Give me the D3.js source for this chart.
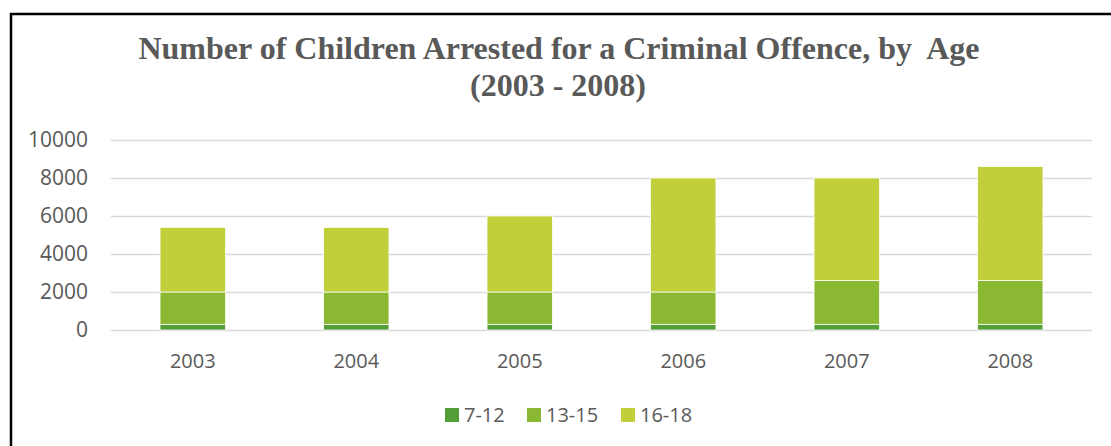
<!DOCTYPE html>
<html>
<head>
<meta charset="utf-8">
<script src="https://cdn.jsdelivr.net/npm/d3@7"></script>
<style>
  body { margin: 0; background: #fff; }
  svg { display: block; }
  .title { font-family: 'Liberation Serif', 'Times New Roman', serif; font-weight: bold; font-size: 32px; fill: #595959; white-space: pre; }
  .axis text, .legend text { font-family: 'Open Sans', sans-serif; fill: #595959; }
</style>
</head>
<body>
<script>
const width = 1111;
const height = 446;

// chart values
const years = ['2003', '2004', '2005', '2006', '2007', '2008'];
const ages = ['7-12', '13-15', '16-18'];
const age7to12 = [300, 300, 300, 300, 300, 300];
const age13to15 = [1700, 1700, 1700, 1700, 2300, 2300];
const age16to18 = [3400, 3400, 4000, 6000, 5400, 6000];
const yTicks = [0, 2000, 4000, 6000, 8000, 10000];
const colors = ['#549E39', '#8AB833', '#C0CF3A'];

const rows = years.map((y, i) => ({year: y, '7-12': age7to12[i], '13-15': age13to15[i], '16-18': age16to18[i]}));

const svg = d3.select('body').append('svg')
  .attr('width', width)
  .attr('height', height);

// frame (only top and left edges are inside the picture)
svg.append('path')
  .attr('d', `M11,${height} V14 H${width}`)
  .attr('fill', 'none')
  .attr('stroke', '#000')
  .attr('stroke-width', 2.5);

svg.append('text').attr('class', 'title')
  .attr('x', 559).attr('y', 59)
  .attr('text-anchor', 'middle')
  .text('Number of Children Arrested for a Criminal Offence, by  Age');
svg.append('text').attr('class', 'title')
  .attr('x', 558).attr('y', 96)
  .attr('text-anchor', 'middle')
  .text('(2003 - 2008)');

const x = d3.scaleBand().domain(years).range([111, 1092]).paddingInner(0.6).paddingOuter(0.3);
const y = d3.scaleLinear().domain([0, 10000]).range([330, 140]);

const yAxis = d3.axisLeft(y).tickValues(yTicks).tickFormat(d3.format('d'))
  .tickSizeInner(-(1092 - 111)).tickSizeOuter(0).tickPadding(23);
const gy = svg.append('g').attr('class', 'axis').attr('transform', 'translate(111,0)').call(yAxis);
gy.select('.domain').remove();
gy.selectAll('line').attr('stroke', '#d9d9d9').attr('stroke-width', 1.5);
gy.selectAll('text').style('font-size', '21px');

const stacked = d3.stack().keys(ages)(rows);

svg.append('g').selectAll('g').data(stacked).enter()
  .append('g')
  .attr('fill', (d, i) => colors[i])
  .selectAll('rect').data(d => d).enter()
  .append('rect')
  .attr('x', d => x(d.data.year))
  .attr('y', d => y(d[1]))
  .attr('width', x.bandwidth())
  .attr('height', d => y(d[0]) - y(d[1]))
  .attr('stroke', '#fff')
  .attr('stroke-width', 0.75);

const xAxis = d3.axisBottom(x).tickSize(0).tickPadding(24);
const gx = svg.append('g').attr('class', 'axis').attr('transform', 'translate(0,330)').call(xAxis);
gx.select('.domain').remove();
gx.selectAll('text').style('font-size', '20px');

// legend
const legendX = [445, 527, 621];
const legend = svg.append('g').attr('class', 'legend')
  .selectAll('g').data(ages).enter()
  .append('g')
  .attr('transform', (d, i) => `translate(${legendX[i]},408)`);
legend.append('rect')
  .attr('width', 14).attr('height', 14)
  .attr('fill', (d, i) => colors[i]);
legend.append('text')
  .attr('x', 19).attr('y', 14)
  .style('font-size', '20px')
  .text(d => d);
</script>
</body>
</html>
